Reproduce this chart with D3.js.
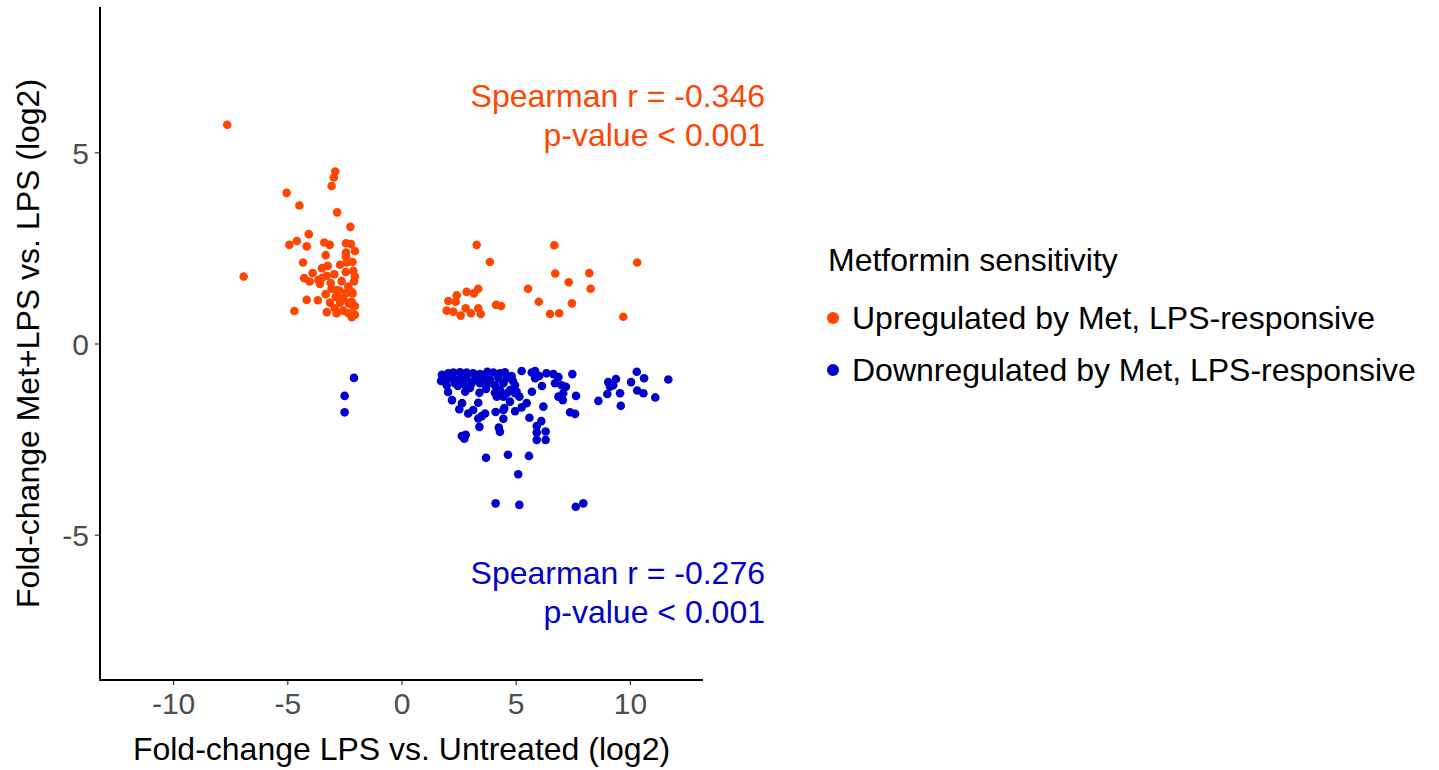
<!DOCTYPE html>
<html>
<head>
<meta charset="utf-8">
<script src="https://cdn.jsdelivr.net/npm/d3@7"></script>
<style>
  body { margin: 0; background: #fff; }
  text { font-family: "Liberation Sans", Arial, sans-serif; }
</style>
</head>
<body>
<div id="chart"></div>
<script>
// ------------------------- data -------------------------
// log2 fold-changes: [LPS vs untreated, Met+LPS vs LPS]
var up_points = [
  [-7.63, 5.72], [-2.90, 4.50], [-2.96, 4.34], [-3.06, 4.12], [-5.03, 3.94], [-4.47, 3.61],
  [-2.82, 3.43], [-2.24, 3.05], [-4.06, 2.86], [-4.58, 2.68], [-4.91, 2.58], [-4.15, 2.54],
  [-3.38, 2.64], [-3.14, 2.58], [-2.43, 2.62], [-2.21, 2.60], [-2.04, 2.42], [-2.43, 2.38],
  [-3.32, 2.31], [-2.43, 2.26], [-4.31, 2.12], [-2.69, 2.06], [-2.40, 2.12], [-2.15, 2.13],
  [-3.23, 2.03], [-3.48, 1.97], [-3.89, 1.84], [-4.26, 1.71], [-4.02, 1.62], [-3.64, 1.66],
  [-3.27, 1.77], [-2.94, 1.81], [-2.44, 1.87], [-2.11, 1.90], [-2.04, 1.75], [-2.08, 1.62],
  [-6.91, 1.75], [-3.10, 1.58], [-2.62, 1.63], [-2.33, 1.49], [-3.57, 1.56], [-3.06, 1.43],
  [-2.72, 1.38], [-2.40, 1.33], [-2.14, 1.31], [-3.32, 1.29], [-2.88, 1.22], [-2.55, 1.18],
  [-4.15, 1.14], [-3.66, 1.13], [-3.13, 1.07], [-2.69, 1.07], [-2.31, 1.05], [-2.04, 0.98],
  [-2.92, 0.92], [-4.69, 0.85], [-3.27, 0.82], [-2.55, 0.86], [-2.33, 0.79], [-2.04, 0.75],
  [-2.18, 0.69], [-2.84, 0.79], [-2.18, 1.35], [-2.18, 1.09], [-2.10, 0.96], [-2.69, 1.16],
  [-2.84, 1.40], [-3.47, 1.72],
  [3.29, 2.58], [6.69, 2.57], [3.87, 2.13], [10.32, 2.12], [6.73, 1.83], [8.22, 1.84],
  [7.32, 1.60], [5.54, 1.43], [8.28, 1.43], [2.42, 1.26], [2.85, 1.35], [3.17, 1.31],
  [3.36, 1.43], [2.05, 1.11], [2.37, 1.09], [6.01, 1.09], [7.46, 1.05], [4.14, 1.01],
  [4.36, 0.98], [1.98, 0.86], [2.27, 0.83], [2.59, 0.73], [2.81, 0.92], [3.04, 0.79],
  [3.36, 0.92], [3.47, 0.77], [6.50, 0.77], [6.90, 0.79], [9.71, 0.70]
];

var down_points = [
  [-2.08, -0.90], [-2.49, -1.37], [-2.49, -1.80],
  [2.05, -0.78], [2.27, -0.76], [2.56, -0.75], [2.85, -0.76], [3.14, -0.78], [3.44, -0.80],
  [3.76, -0.74], [4.02, -0.76], [4.31, -0.78], [1.98, -0.91], [2.27, -0.94], [2.56, -0.91],
  [2.85, -0.91], [3.22, -0.94], [3.58, -0.91], [3.87, -0.94], [4.24, -0.91], [4.61, -0.91],
  [4.82, -0.85], [1.98, -1.09], [2.34, -1.04], [2.71, -1.06], [3.07, -1.04], [3.44, -1.04],
  [3.80, -1.04], [4.09, -1.09], [4.46, -1.04], [5.26, -0.72], [5.70, -0.76], [5.85, -0.72],
  [6.03, -0.85], [5.85, -0.91], [4.97, -1.09], [6.15, -1.11], [2.04, -1.27], [2.79, -1.26],
  [3.41, -1.29], [4.09, -1.29], [4.31, -1.22], [4.75, -1.22], [4.97, -1.30], [5.16, -1.39],
  [5.71, -1.26], [2.21, -1.48], [2.65, -1.56], [3.36, -1.55], [4.46, -1.39], [4.75, -1.52],
  [5.48, -1.56], [6.21, -1.65], [2.53, -1.72], [2.92, -1.83], [3.14, -1.74], [3.66, -1.83],
  [4.12, -1.79], [4.50, -1.69], [4.97, -1.77], [5.26, -1.67], [3.36, -1.96], [3.51, -1.90],
  [4.46, -1.97], [5.60, -1.94], [6.12, -2.03], [3.41, -2.18], [4.26, -2.20], [4.31, -2.31],
  [5.92, -2.16], [5.92, -2.33], [6.31, -2.30], [5.92, -2.52], [6.31, -2.52], [2.64, -2.42],
  [2.81, -2.39], [2.75, -2.49], [3.70, -2.99], [4.66, -2.91], [5.58, -2.94], [5.11, -3.42],
  [4.12, -4.18], [5.16, -4.22], [4.46, -1.74], [4.17, -1.39], [4.61, -1.30], [5.04, -1.26],
  [1.77, -0.82], [1.73, -0.98], [2.47, -1.11], [3.00, -1.16], [3.70, -1.19], [4.53, -0.75],
  [4.88, -0.98], [6.35, -0.78],
  [6.65, -0.80], [6.87, -0.88], [7.48, -0.80], [6.72, -1.04], [7.01, -1.09], [7.20, -1.13],
  [6.87, -1.39], [7.08, -1.30], [7.06, -1.48], [7.64, -1.37], [7.38, -1.80], [7.60, -1.84],
  [8.62, -1.50], [9.05, -1.01], [9.13, -1.13], [9.39, -0.93], [9.27, -1.09], [9.01, -1.32],
  [9.57, -1.30], [9.60, -1.63], [10.30, -0.74], [10.05, -1.01], [10.62, -0.91], [10.32, -1.23],
  [10.59, -1.30], [11.11, -1.41], [11.68, -0.94], [7.63, -4.27], [7.96, -4.18]
];

var x_ticks = [-10, -5, 0, 5, 10];
var y_ticks = [-5, 0, 5];
var groups = ['Upregulated by Met, LPS-responsive', 'Downregulated by Met, LPS-responsive'];
var group_colors = ['#FF4500', '#0000CD'];
var up_label = ['Spearman r = -0.346', 'p-value < 0.001'];
var down_label = ['Spearman r = -0.276', 'p-value < 0.001'];

// ------------------------- layout -------------------------
var chart_width = 1439;
var chart_height = 770;
var panel = { left: 100, right: 703, top: 7, bottom: 680 };

var svg = d3.select('#chart')
  .append('svg')
  .attr('width', chart_width)
  .attr('height', chart_height);

var x_scale = d3.scaleLinear()
  .domain([-13.2, 13.2])
  .range([panel.left, panel.right]);

var y_scale = d3.scaleLinear()
  .domain([-8.8, 8.8])
  .range([panel.bottom, panel.top]);

// plain hyphen minus, like the original
var fmt = function(d) { return String(d); };

// axes
var x_axis = d3.axisBottom(x_scale)
  .tickValues(x_ticks)
  .tickFormat(fmt)
  .tickSize(5)
  .tickPadding(6);
var y_axis = d3.axisLeft(y_scale)
  .tickValues(y_ticks)
  .tickFormat(fmt)
  .tickSize(5)
  .tickPadding(6);

var gx = svg.append('g')
  .attr('class', 'x-axis')
  .attr('transform', 'translate(0,' + panel.bottom + ')')
  .call(x_axis);
var gy = svg.append('g')
  .attr('class', 'y-axis')
  .attr('transform', 'translate(' + panel.left + ',0)')
  .call(y_axis);

[gx, gy].forEach(function(g) {
  g.select('.domain').remove();
  g.selectAll('.tick line')
    .attr('stroke', '#333')
    .attr('stroke-width', 1.2);
  g.selectAll('.tick text')
    .attr('fill', '#4D4D4D')
    .style('font-size', '30px');
});
gx.selectAll('.tick text').attr('dy', '0.78em');
gy.selectAll('.tick text').attr('dy', '0.36em');

// axis lines (L-shape)
svg.append('path')
  .attr('d', 'M' + panel.left + ',' + panel.top + 'V' + panel.bottom + 'H' + panel.right)
  .attr('fill', 'none')
  .attr('stroke', '#000')
  .attr('stroke-width', 2);

// axis titles
svg.append('text')
  .attr('x', (panel.left + panel.right) / 2)
  .attr('y', 760)
  .attr('text-anchor', 'middle')
  .style('font-size', '32px')
  .text('Fold-change LPS vs. Untreated (log2)');

svg.append('text')
  .attr('transform', 'translate(39,' + (panel.top + panel.bottom) / 2 + ') rotate(-90)')
  .attr('text-anchor', 'middle')
  .style('font-size', '32px')
  .text('Fold-change Met+LPS vs. LPS (log2)');

// points
var series = [up_points, down_points];
series.forEach(function(pts, i) {
  svg.append('g')
    .selectAll('circle')
    .data(pts)
    .enter()
    .append('circle')
    .attr('cx', function(d) { return x_scale(d[0]); })
    .attr('cy', function(d) { return y_scale(d[1]); })
    .attr('r', 4.3)
    .attr('fill', group_colors[i]);
});

// correlation labels
function addLabel(lines, color, y0) {
  svg.append('g')
    .selectAll('text')
    .data(lines)
    .enter()
    .append('text')
    .attr('x', 765)
    .attr('y', function(d, i) { return y0 + i * 39; })
    .attr('text-anchor', 'end')
    .attr('fill', color)
    .style('font-size', '32px')
    .text(function(d) { return d; });
}
addLabel(up_label, group_colors[0], 107);
addLabel(down_label, group_colors[1], 584);

// legend
var legend = svg.append('g').attr('transform', 'translate(828,0)');
legend.append('text')
  .attr('x', 0)
  .attr('y', 271)
  .style('font-size', '32px')
  .text('Metformin sensitivity');

var items = legend.selectAll('.item')
  .data(groups)
  .enter()
  .append('g')
  .attr('class', 'item')
  .attr('transform', function(d, i) { return 'translate(0,' + (318 + i * 52) + ')'; });
items.append('circle')
  .attr('cx', 5)
  .attr('cy', 0)
  .attr('r', 6)
  .attr('fill', function(d, i) { return group_colors[i]; });
items.append('text')
  .attr('x', 24)
  .attr('y', 0)
  .attr('dy', '0.35em')
  .style('font-size', '32px')
  .text(function(d) { return d; });
</script>
</body>
</html>
